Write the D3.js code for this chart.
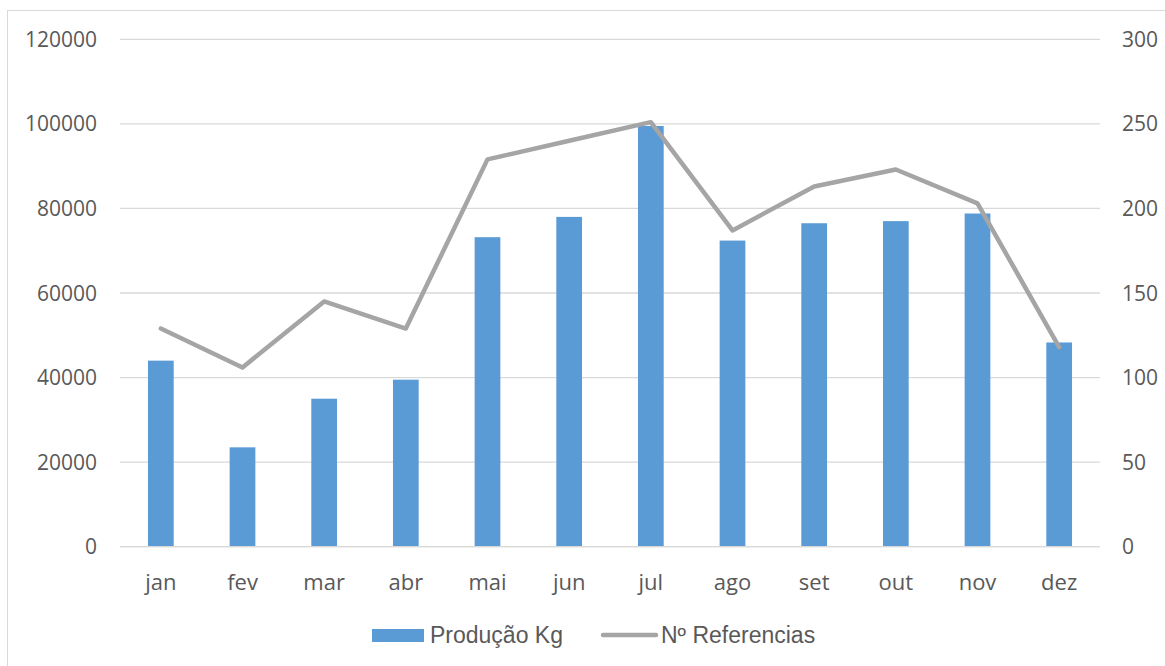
<!DOCTYPE html>
<html>
<head>
<meta charset="utf-8">
<script src="https://cdn.jsdelivr.net/npm/d3@7"></script>
<style>
  body { margin: 0; background: #fff; }
</style>
</head>
<body>
<div id="container"></div>
<script>
const w = 1165;
const h = 666;

const months = ["jan", "fev", "mar", "abr", "mai", "jun", "jul", "ago", "set", "out", "nov", "dez"];
const producao = [44000, 23500, 35000, 39500, 73200, 78000, 99500, 72400, 76500, 77000, 78800, 48300];
const referencias = [129, 106, 145, 129, 229, 240, 251, 187, 213, 223, 203, 118];
const leftTicks = [0, 20000, 40000, 60000, 80000, 100000, 120000];
const rightTicks = [0, 50, 100, 150, 200, 250, 300];

const textColor = "#595959";
const barColor = "#5b9bd5";
const lineColor = "#a5a5a5";

const svg = d3.select("#container")
              .append("svg")
              .attr("width", w)
              .attr("height", h);

// chart frame
svg.append("rect")
   .attr("x", 7.5)
   .attr("y", 10.5)
   .attr("width", 1170)
   .attr("height", 670)
   .attr("fill", "none")
   .attr("stroke", "#d9d9d9");

const x = d3.scaleBand().domain(months).range([120, 1100]).paddingInner(0.685).paddingOuter(0.3425);
const yL = d3.scaleLinear().domain([0, 120000]).range([546.7, 39.3]);
const yR = d3.scaleLinear().domain([0, 300]).range([546.7, 39.3]);

// gridlines
svg.append("g")
   .selectAll("line")
   .data(leftTicks)
   .enter()
   .append("line")
   .attr("x1", 120)
   .attr("x2", 1100)
   .attr("y1", d => yL(d))
   .attr("y2", d => yL(d))
   .attr("stroke", "#d9d9d9")
   .attr("stroke-width", 1.3);

// left axis labels
svg.append("g")
   .selectAll("text")
   .data(leftTicks)
   .enter()
   .append("text")
   .attr("x", 97)
   .attr("y", d => yL(d))
   .attr("dy", "0.36em")
   .attr("text-anchor", "end")
   .attr("fill", textColor)
   .style("font-family", "'Open Sans', sans-serif")
   .style("font-size", "21px")
   .text(d => d);

// right axis labels
svg.append("g")
   .selectAll("text")
   .data(rightTicks)
   .enter()
   .append("text")
   .attr("x", 1122)
   .attr("y", d => yR(d))
   .attr("dy", "0.36em")
   .attr("text-anchor", "start")
   .attr("fill", textColor)
   .style("font-family", "'Open Sans', sans-serif")
   .style("font-size", "21px")
   .text(d => d);

// bars
svg.append("g")
   .selectAll("rect")
   .data(producao)
   .enter()
   .append("rect")
   .attr("x", (d, i) => x(months[i]))
   .attr("y", d => yL(d))
   .attr("width", x.bandwidth())
   .attr("height", d => yL(0) - yL(d))
   .attr("fill", barColor);

// zero line over bars
svg.append("line")
   .attr("x1", 120)
   .attr("x2", 1100)
   .attr("y1", yL(0))
   .attr("y2", yL(0))
   .attr("stroke", "#d9d9d9")
   .attr("stroke-width", 1.3);

// line series
const line = d3.line()
               .x((d, i) => x(months[i]) + x.bandwidth() / 2)
               .y(d => yR(d));

svg.append("path")
   .datum(referencias)
   .attr("d", line)
   .attr("fill", "none")
   .attr("stroke", lineColor)
   .attr("stroke-width", 4.5)
   .attr("stroke-linejoin", "round")
   .attr("stroke-linecap", "round");

// x labels
svg.append("g")
   .selectAll("text")
   .data(months)
   .enter()
   .append("text")
   .attr("x", d => x(d) + x.bandwidth() / 2)
   .attr("y", 590)
   .attr("text-anchor", "middle")
   .attr("fill", textColor)
   .style("font-family", "'Open Sans', sans-serif")
   .style("font-size", "22px")
   .text(d => d);

// legend
const legend = svg.append("g");
legend.append("rect")
      .attr("x", 372)
      .attr("y", 629)
      .attr("width", 52)
      .attr("height", 13)
      .attr("fill", barColor);
legend.append("text")
      .attr("x", 430)
      .attr("y", 643)
      .attr("fill", textColor)
      .style("font-family", "'Liberation Sans', Arial, sans-serif")
      .style("font-size", "23px")
      .text("Produção Kg");
legend.append("line")
      .attr("x1", 603)
      .attr("x2", 656)
      .attr("y1", 635)
      .attr("y2", 635)
      .attr("stroke", lineColor)
      .attr("stroke-width", 4.5)
      .attr("stroke-linecap", "round");
legend.append("text")
      .attr("x", 661)
      .attr("y", 643)
      .attr("fill", textColor)
      .style("font-family", "'Liberation Sans', Arial, sans-serif")
      .style("font-size", "23px")
      .text("Nº Referencias");
</script>
</body>
</html>
